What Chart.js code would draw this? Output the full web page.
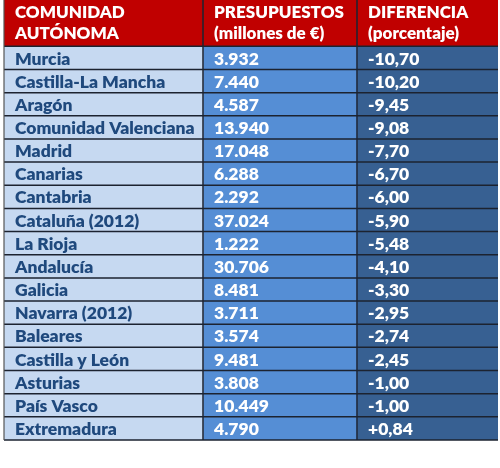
<!DOCTYPE html>
<html><head><meta charset="utf-8">
<script src="https://cdn.jsdelivr.net/npm/chart.js@4.4.0/dist/chart.umd.min.js"></script>
<style>html,body{margin:0;padding:0;background:#fff}#wrap{width:500px;height:468px}</style>
</head><body><div id="wrap"><canvas id="c"></canvas></div>
<script>
const headers = [["COMUNIDAD","AUTÓNOMA"],["PRESUPUESTOS","(millones de €)"],["DIFERENCIA","(porcentaje)"]];
const regions = ["Murcia","Castilla-La Mancha","Aragón","Comunidad Valenciana","Madrid","Canarias","Cantabria","Cataluña (2012)","La Rioja","Andalucía","Galicia","Navarra (2012)","Baleares","Castilla y León","Asturias","País Vasco","Extremadura"];
const budgets = ["3.932","7.440","4.587","13.940","17.048","6.288","2.292","37.024","1.222","30.706","8.481","3.711","3.574","9.481","3.808","10.449","4.790"];
const diffs = ["-10,70","-10,20","-9,45","-9,08","-7,70","-6,70","-6,00","-5,90","-5,48","-4,10","-3,30","-2,95","-2,74","-2,45","-1,00","-1,00","+0,84"];

// layout / style constants
const colW = [199,154,141];
const headBg = '#C00000';
const cellBg = ['#C6D9F1','#558ED5','#376092'];
const textCol = ['#1F497D','#FFFFFF','#FFFFFF'];
const FONT = '800 17.5px Lato, "Open Sans", sans-serif';
const HFONT = '800 17px Lato, "Open Sans", sans-serif';

const labels = ['h1','h2', ...regions];
const datasets = colW.map((w,ci)=>({
  data: labels.map(()=>w),
  backgroundColor: labels.map((_,i)=> i<2 ? headBg : cellBg[ci]),
  borderWidth:0, barPercentage:1, categoryPercentage:1
}));
const cols = [regions, budgets, diffs];

const tablePlugin = {
  id:'tableText',
  afterDatasetsDraw(chart){
    const ctx = chart.ctx, y = chart.scales.y, x = chart.scales.x, ca = chart.chartArea;
    const rowTop = i => i===0 ? y.getPixelForValue(0) - (y.getPixelForValue(1)-y.getPixelForValue(0))/2 : (y.getPixelForValue(i-1)+y.getPixelForValue(i))/2;
    const bottom = ca.bottom;
    const edges = [0]; colW.forEach(w=>edges.push(edges[edges.length-1]+w));
    const xs = edges.map(e=>x.getPixelForValue(e));
    ctx.save();
    // lines
    ctx.strokeStyle = '#1c2330'; ctx.lineWidth = 1.5;
    ctx.beginPath();
    for(let i=2;i<labels.length;i++){ const yy=rowTop(i); ctx.moveTo(xs[0],yy); ctx.lineTo(xs[3],yy); }
    ctx.moveTo(xs[0],bottom); ctx.lineTo(xs[3],bottom);
    [1,2].forEach(k=>{ ctx.moveTo(xs[k],Math.max(0,rowTop(0))); ctx.lineTo(xs[k],bottom); });
    ctx.stroke();
    ctx.strokeStyle = '#555'; ctx.lineWidth = 1.2;
    ctx.beginPath(); ctx.moveTo(xs[0],0); ctx.lineTo(xs[0],bottom); ctx.stroke();
    // text
    ctx.textBaseline = 'middle'; ctx.textAlign = 'left';
    ctx.font = HFONT; ctx.fillStyle = '#FFFFFF';
    headers.forEach((h,ci)=>{
      ctx.fillText(h[0], xs[ci]+11, 13);
      ctx.fillText(h[1], xs[ci]+11, 34);
    });
    ctx.font = FONT;
    cols.forEach((arr,ci)=>{
      ctx.fillStyle = textCol[ci];
      arr.forEach((t,ri)=>{ ctx.fillText(t, xs[ci]+11, y.getPixelForValue(ri+2)+1); });
    });
    ctx.restore();
  }
};

new Chart(document.getElementById('c'),{
  type:'bar',
  data:{labels, datasets},
  options:{
    indexAxis:'y', responsive:true, maintainAspectRatio:false, animation:false,
    layout:{padding:{left:4,right:2,top:-2.6,bottom:28}},
    plugins:{legend:{display:false},tooltip:{enabled:false}},
    scales:{
      x:{stacked:true,min:0,max:colW.reduce((a,b)=>a+b,0),display:false},
      y:{stacked:true,display:false}
    }
  },
  plugins:[tablePlugin]
});
</script></body></html>
